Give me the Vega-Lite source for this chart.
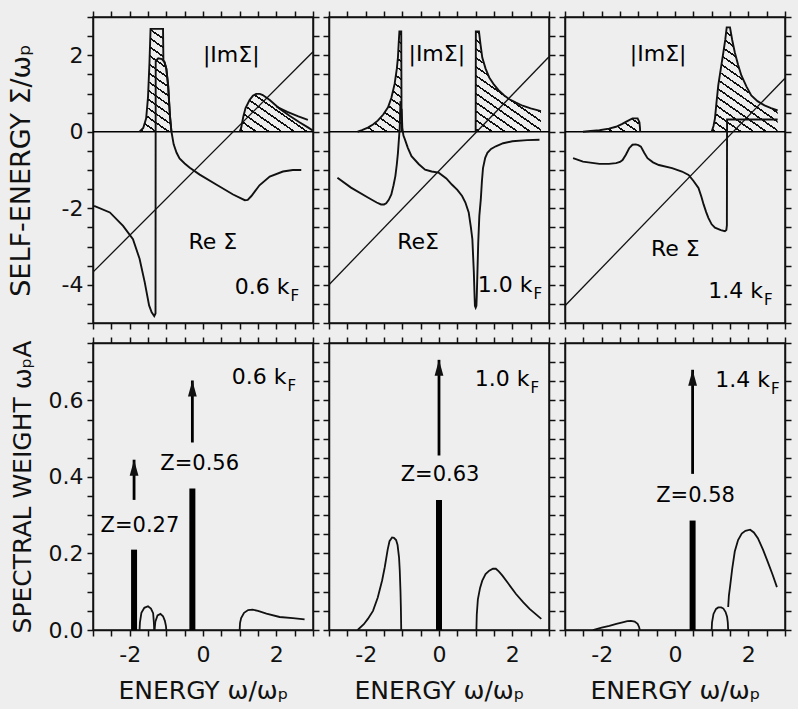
{
"$schema": "https://vega.github.io/schema/vega-lite/v6.json",
"background": "#eeeeee",
"padding": {"left": 6, "top": 5, "right": 5, "bottom": 5},
"config": {
 "view": {"stroke": "#111", "strokeWidth": 1.5},
 "font": "DejaVu Sans",
 "mark": {"color": "#111"},
 "axis": {"domainColor": "#111", "domainWidth": 1.5, "tickColor": "#111", "tickWidth": 1.5, "tickSize": 6, "grid": false, "labelColor": "#111", "labelFontSize": 22, "labelPadding": 4, "labelFlush": false, "labelOverlap": false, "titleColor": "#111", "titleFontWeight": "normal", "titleFontSize": 24}
},
"datasets": {
 "curves": [
  {"p":"1t","s":"ln","x":-3,"y":-3.67},{"p":"1t","s":"ln","x":3,"y":2.09},
  {"p":"1t","s":"re1","x":-2.97,"y":-1.94},{"p":"1t","s":"re1","x":-2.54,"y":-2.11},{"p":"1t","s":"re1","x":-2.18,"y":-2.46},{"p":"1t","s":"re1","x":-1.91,"y":-2.81},{"p":"1t","s":"re1","x":-1.73,"y":-3.32},{"p":"1t","s":"re1","x":-1.59,"y":-3.93},{"p":"1t","s":"re1","x":-1.47,"y":-4.54},{"p":"1t","s":"re1","x":-1.4,"y":-4.72},{"p":"1t","s":"re1","x":-1.33,"y":-4.82},{"p":"1t","s":"re1","x":-1.295,"y":-4.75},{"p":"1t","s":"re1","x":-1.29,"y":1.85},{"p":"1t","s":"re1","x":-1.22,"y":1.92},{"p":"1t","s":"re1","x":-1.12,"y":1.9},{"p":"1t","s":"re1","x":-1.05,"y":1.82},{"p":"1t","s":"re1","x":-1.0,"y":1.65},{"p":"1t","s":"re1","x":-0.95,"y":1.2},{"p":"1t","s":"re1","x":-0.9,"y":0.4},{"p":"1t","s":"re1","x":-0.86,"y":0.0},{"p":"1t","s":"re1","x":-0.8,"y":-0.33},{"p":"1t","s":"re1","x":-0.72,"y":-0.55},{"p":"1t","s":"re1","x":-0.64,"y":-0.7},{"p":"1t","s":"re1","x":-0.5,"y":-0.83},{"p":"1t","s":"re1","x":-0.36,"y":-0.94},{"p":"1t","s":"re1","x":-0.09,"y":-1.12},{"p":"1t","s":"re1","x":0.36,"y":-1.38},{"p":"1t","s":"re1","x":0.82,"y":-1.64},{"p":"1t","s":"re1","x":1.14,"y":-1.79},{"p":"1t","s":"re1","x":1.22,"y":-1.78},{"p":"1t","s":"re1","x":1.32,"y":-1.68},{"p":"1t","s":"re1","x":1.54,"y":-1.4},{"p":"1t","s":"re1","x":1.82,"y":-1.17},{"p":"1t","s":"re1","x":2.18,"y":-1.04},{"p":"1t","s":"re1","x":2.45,"y":-1.0},{"p":"1t","s":"re1","x":2.68,"y":-1.0},
  {"p":"1t","s":"A1","x":-1.73,"y":0},{"p":"1t","s":"A1","x":-1.63,"y":0.1},{"p":"1t","s":"A1","x":-1.55,"y":0.35},{"p":"1t","s":"A1","x":-1.5,"y":0.9},{"p":"1t","s":"A1","x":-1.46,"y":1.8},{"p":"1t","s":"A1","x":-1.43,"y":2.69},{"p":"1t","s":"A1","x":-1.09,"y":2.69},{"p":"1t","s":"A1","x":-1.08,"y":1.87},{"p":"1t","s":"A1","x":-1.05,"y":1.82},{"p":"1t","s":"A1","x":-1.0,"y":1.65},{"p":"1t","s":"A1","x":-0.95,"y":1.2},{"p":"1t","s":"A1","x":-0.9,"y":0.4},{"p":"1t","s":"A1","x":-0.86,"y":0},
  {"p":"1t","s":"A2","x":1.0,"y":0},{"p":"1t","s":"A2","x":1.04,"y":0.1},{"p":"1t","s":"A2","x":1.1,"y":0.4},{"p":"1t","s":"A2","x":1.16,"y":0.62},{"p":"1t","s":"A2","x":1.27,"y":0.83},{"p":"1t","s":"A2","x":1.36,"y":0.94},{"p":"1t","s":"A2","x":1.45,"y":0.99},{"p":"1t","s":"A2","x":1.55,"y":0.99},{"p":"1t","s":"A2","x":1.63,"y":0.96},{"p":"1t","s":"A2","x":1.82,"y":0.83},{"p":"1t","s":"A2","x":2.09,"y":0.6},{"p":"1t","s":"A2","x":2.36,"y":0.42},{"p":"1t","s":"A2","x":2.63,"y":0.25},{"p":"1t","s":"A2","x":2.85,"y":0.12},{"p":"1t","s":"A2","x":3.0,"y":0.03},
  {"p":"1t","s":"im2b","x":2.0,"y":0.66},{"p":"1t","s":"im2b","x":2.3,"y":0.52},{"p":"1t","s":"im2b","x":2.6,"y":0.4},{"p":"1t","s":"im2b","x":2.86,"y":0.31},

  {"p":"2t","s":"ln","x":-3,"y":-4.0},{"p":"2t","s":"ln","x":3,"y":1.96},
  {"p":"2t","s":"re1","x":-2.77,"y":-1.2},{"p":"2t","s":"re1","x":-2.4,"y":-1.46},{"p":"2t","s":"re1","x":-1.94,"y":-1.72},{"p":"2t","s":"re1","x":-1.7,"y":-1.85},{"p":"2t","s":"re1","x":-1.58,"y":-1.9},{"p":"2t","s":"re1","x":-1.5,"y":-1.9},{"p":"2t","s":"re1","x":-1.44,"y":-1.87},{"p":"2t","s":"re1","x":-1.37,"y":-1.78},{"p":"2t","s":"re1","x":-1.3,"y":-1.64},{"p":"2t","s":"re1","x":-1.24,"y":-1.4},{"p":"2t","s":"re1","x":-1.19,"y":-1.16},{"p":"2t","s":"re1","x":-1.15,"y":-0.85},{"p":"2t","s":"re1","x":-1.12,"y":-0.56},{"p":"2t","s":"re1","x":-1.09,"y":-0.15},{"p":"2t","s":"re1","x":-1.07,"y":0.13},{"p":"2t","s":"re1","x":-1.06,"y":0.5},{"p":"2t","s":"re1","x":-1.05,"y":0.8},
  {"p":"2t","s":"re2","x":-1.02,"y":0.6},{"p":"2t","s":"re2","x":-1.0,"y":0.1},{"p":"2t","s":"re2","x":-0.97,"y":-0.1},{"p":"2t","s":"re2","x":-0.93,"y":-0.2},{"p":"2t","s":"re2","x":-0.85,"y":-0.42},{"p":"2t","s":"re2","x":-0.75,"y":-0.64},{"p":"2t","s":"re2","x":-0.55,"y":-0.85},{"p":"2t","s":"re2","x":-0.38,"y":-0.99},{"p":"2t","s":"re2","x":-0.2,"y":-1.04},{"p":"2t","s":"re2","x":-0.01,"y":-1.07},{"p":"2t","s":"re2","x":0.2,"y":-1.22},{"p":"2t","s":"re2","x":0.35,"y":-1.38},{"p":"2t","s":"re2","x":0.5,"y":-1.52},{"p":"2t","s":"re2","x":0.63,"y":-1.68},{"p":"2t","s":"re2","x":0.72,"y":-1.85},{"p":"2t","s":"re2","x":0.81,"y":-2.11},{"p":"2t","s":"re2","x":0.87,"y":-2.5},{"p":"2t","s":"re2","x":0.91,"y":-2.81},{"p":"2t","s":"re2","x":0.95,"y":-3.67},{"p":"2t","s":"re2","x":0.97,"y":-4.3},{"p":"2t","s":"re2","x":0.98,"y":-4.55},{"p":"2t","s":"re2","x":1.0,"y":-4.6},{"p":"2t","s":"re2","x":1.02,"y":-4.55},{"p":"2t","s":"re2","x":1.03,"y":-4.3},{"p":"2t","s":"re2","x":1.05,"y":-3.6},{"p":"2t","s":"re2","x":1.07,"y":-2.9},{"p":"2t","s":"re2","x":1.1,"y":-2.2},{"p":"2t","s":"re2","x":1.14,"y":-1.77},{"p":"2t","s":"re2","x":1.17,"y":-1.3},{"p":"2t","s":"re2","x":1.2,"y":-0.95},{"p":"2t","s":"re2","x":1.26,"y":-0.68},{"p":"2t","s":"re2","x":1.32,"y":-0.55},{"p":"2t","s":"re2","x":1.42,"y":-0.45},{"p":"2t","s":"re2","x":1.55,"y":-0.38},{"p":"2t","s":"re2","x":1.75,"y":-0.3},{"p":"2t","s":"re2","x":2.0,"y":-0.25},{"p":"2t","s":"re2","x":2.4,"y":-0.22},{"p":"2t","s":"re2","x":2.74,"y":-0.21},
  {"p":"2t","s":"A3","x":-2.22,"y":0},{"p":"2t","s":"A3","x":-2.1,"y":0.04},{"p":"2t","s":"A3","x":-1.94,"y":0.11},{"p":"2t","s":"A3","x":-1.8,"y":0.19},{"p":"2t","s":"A3","x":-1.67,"y":0.29},{"p":"2t","s":"A3","x":-1.52,"y":0.45},{"p":"2t","s":"A3","x":-1.39,"y":0.64},{"p":"2t","s":"A3","x":-1.3,"y":0.88},{"p":"2t","s":"A3","x":-1.21,"y":1.25},{"p":"2t","s":"A3","x":-1.15,"y":1.65},{"p":"2t","s":"A3","x":-1.12,"y":1.94},{"p":"2t","s":"A3","x":-1.1,"y":2.3},{"p":"2t","s":"A3","x":-1.08,"y":2.62},{"p":"2t","s":"A3","x":-1.03,"y":2.62},{"p":"2t","s":"A3","x":-1.02,"y":0},
  {"p":"2t","s":"A4","x":1.0,"y":0},{"p":"2t","s":"A4","x":1.005,"y":2.62},{"p":"2t","s":"A4","x":1.09,"y":2.62},{"p":"2t","s":"A4","x":1.13,"y":2.3},{"p":"2t","s":"A4","x":1.18,"y":1.94},{"p":"2t","s":"A4","x":1.27,"y":1.65},{"p":"2t","s":"A4","x":1.37,"y":1.42},{"p":"2t","s":"A4","x":1.5,"y":1.23},{"p":"2t","s":"A4","x":1.64,"y":1.07},{"p":"2t","s":"A4","x":1.78,"y":0.95},{"p":"2t","s":"A4","x":1.92,"y":0.85},{"p":"2t","s":"A4","x":2.1,"y":0.76},{"p":"2t","s":"A4","x":2.28,"y":0.68},{"p":"2t","s":"A4","x":2.5,"y":0.61},{"p":"2t","s":"A4","x":2.78,"y":0.54},

  {"p":"3t","s":"ln","x":-3,"y":-4.55},{"p":"3t","s":"ln","x":3,"y":1.4},
  {"p":"3t","s":"re","x":-2.78,"y":-0.69},{"p":"3t","s":"re","x":-2.51,"y":-0.78},{"p":"3t","s":"re","x":-2.06,"y":-0.84},{"p":"3t","s":"re","x":-1.8,"y":-0.84},{"p":"3t","s":"re","x":-1.61,"y":-0.82},{"p":"3t","s":"re","x":-1.5,"y":-0.79},{"p":"3t","s":"re","x":-1.43,"y":-0.74},{"p":"3t","s":"re","x":-1.34,"y":-0.6},{"p":"3t","s":"re","x":-1.25,"y":-0.43},{"p":"3t","s":"re","x":-1.16,"y":-0.34},{"p":"3t","s":"re","x":-1.07,"y":-0.33},{"p":"3t","s":"re","x":-1.0,"y":-0.35},{"p":"3t","s":"re","x":-0.93,"y":-0.39},{"p":"3t","s":"re","x":-0.84,"y":-0.55},{"p":"3t","s":"re","x":-0.75,"y":-0.69},{"p":"3t","s":"re","x":-0.6,"y":-0.8},{"p":"3t","s":"re","x":-0.44,"y":-0.87},{"p":"3t","s":"re","x":-0.08,"y":-0.95},{"p":"3t","s":"re","x":0.19,"y":-1.04},{"p":"3t","s":"re","x":0.37,"y":-1.13},{"p":"3t","s":"re","x":0.5,"y":-1.28},{"p":"3t","s":"re","x":0.64,"y":-1.47},{"p":"3t","s":"re","x":0.72,"y":-1.7},{"p":"3t","s":"re","x":0.78,"y":-1.9},{"p":"3t","s":"re","x":0.85,"y":-2.1},{"p":"3t","s":"re","x":0.91,"y":-2.25},{"p":"3t","s":"re","x":1.0,"y":-2.42},{"p":"3t","s":"re","x":1.09,"y":-2.51},{"p":"3t","s":"re","x":1.25,"y":-2.57},{"p":"3t","s":"re","x":1.36,"y":-2.6},{"p":"3t","s":"re","x":1.4,"y":-2.57},{"p":"3t","s":"re","x":1.415,"y":-2.45},{"p":"3t","s":"re","x":1.42,"y":0.32},{"p":"3t","s":"re","x":1.6,"y":0.32},{"p":"3t","s":"re","x":2.2,"y":0.32},{"p":"3t","s":"re","x":2.8,"y":0.32},
  {"p":"3t","s":"A5","x":-2.51,"y":0},{"p":"3t","s":"A5","x":-2.3,"y":0.02},{"p":"3t","s":"A5","x":-2.06,"y":0.04},{"p":"3t","s":"A5","x":-1.8,"y":0.08},{"p":"3t","s":"A5","x":-1.61,"y":0.13},{"p":"3t","s":"A5","x":-1.45,"y":0.2},{"p":"3t","s":"A5","x":-1.34,"y":0.26},{"p":"3t","s":"A5","x":-1.16,"y":0.35},{"p":"3t","s":"A5","x":-1.02,"y":0.35},{"p":"3t","s":"A5","x":-0.97,"y":0.25},{"p":"3t","s":"A5","x":-0.955,"y":0.1},{"p":"3t","s":"A5","x":-0.95,"y":0},
  {"p":"3t","s":"A6","x":1.0,"y":0},{"p":"3t","s":"A6","x":1.05,"y":0.15},{"p":"3t","s":"A6","x":1.09,"y":0.35},{"p":"3t","s":"A6","x":1.13,"y":0.75},{"p":"3t","s":"A6","x":1.18,"y":1.21},{"p":"3t","s":"A6","x":1.25,"y":1.65},{"p":"3t","s":"A6","x":1.32,"y":2.08},{"p":"3t","s":"A6","x":1.37,"y":2.4},{"p":"3t","s":"A6","x":1.41,"y":2.73},{"p":"3t","s":"A6","x":1.5,"y":2.73},{"p":"3t","s":"A6","x":1.56,"y":2.4},{"p":"3t","s":"A6","x":1.63,"y":2.08},{"p":"3t","s":"A6","x":1.72,"y":1.75},{"p":"3t","s":"A6","x":1.81,"y":1.47},{"p":"3t","s":"A6","x":1.95,"y":1.18},{"p":"3t","s":"A6","x":2.08,"y":0.95},{"p":"3t","s":"A6","x":2.25,"y":0.8},{"p":"3t","s":"A6","x":2.44,"y":0.69},{"p":"3t","s":"A6","x":2.62,"y":0.62},{"p":"3t","s":"A6","x":2.8,"y":0.56},

  {"p":"1b","s":"b1","x":-1.73,"y":0},{"p":"1b","s":"b1","x":-1.72,"y":0.02},{"p":"1b","s":"b1","x":-1.68,"y":0.045},{"p":"1b","s":"b1","x":-1.6,"y":0.058},{"p":"1b","s":"b1","x":-1.5,"y":0.062},{"p":"1b","s":"b1","x":-1.42,"y":0.056},{"p":"1b","s":"b1","x":-1.36,"y":0.044},{"p":"1b","s":"b1","x":-1.34,"y":0.02},{"p":"1b","s":"b1","x":-1.33,"y":0},
  {"p":"1b","s":"b2","x":-1.32,"y":0},{"p":"1b","s":"b2","x":-1.3,"y":0.022},{"p":"1b","s":"b2","x":-1.24,"y":0.038},{"p":"1b","s":"b2","x":-1.16,"y":0.042},{"p":"1b","s":"b2","x":-1.09,"y":0.036},{"p":"1b","s":"b2","x":-1.04,"y":0.024},{"p":"1b","s":"b2","x":-1.01,"y":0.01},{"p":"1b","s":"b2","x":-1.0,"y":0},
  {"p":"1b","s":"b3","x":1.0,"y":0},{"p":"1b","s":"b3","x":1.01,"y":0.018},{"p":"1b","s":"b3","x":1.04,"y":0.031},{"p":"1b","s":"b3","x":1.12,"y":0.045},{"p":"1b","s":"b3","x":1.23,"y":0.052},{"p":"1b","s":"b3","x":1.35,"y":0.053},{"p":"1b","s":"b3","x":1.5,"y":0.05},{"p":"1b","s":"b3","x":1.73,"y":0.043},{"p":"1b","s":"b3","x":2.09,"y":0.034},{"p":"1b","s":"b3","x":2.45,"y":0.031},{"p":"1b","s":"b3","x":2.77,"y":0.028},

  {"p":"2b","s":"b1","x":-2.22,"y":0},{"p":"2b","s":"b1","x":-2.05,"y":0.015},{"p":"2b","s":"b1","x":-1.94,"y":0.029},{"p":"2b","s":"b1","x":-1.8,"y":0.05},{"p":"2b","s":"b1","x":-1.67,"y":0.085},{"p":"2b","s":"b1","x":-1.55,"y":0.13},{"p":"2b","s":"b1","x":-1.48,"y":0.164},{"p":"2b","s":"b1","x":-1.4,"y":0.21},{"p":"2b","s":"b1","x":-1.35,"y":0.232},{"p":"2b","s":"b1","x":-1.28,"y":0.242},{"p":"2b","s":"b1","x":-1.23,"y":0.241},{"p":"2b","s":"b1","x":-1.17,"y":0.235},{"p":"2b","s":"b1","x":-1.13,"y":0.222},{"p":"2b","s":"b1","x":-1.09,"y":0.19},{"p":"2b","s":"b1","x":-1.07,"y":0.155},{"p":"2b","s":"b1","x":-1.05,"y":0.1},{"p":"2b","s":"b1","x":-1.04,"y":0.06},{"p":"2b","s":"b1","x":-1.03,"y":0},
  {"p":"2b","s":"b2","x":1.02,"y":0},{"p":"2b","s":"b2","x":1.03,"y":0.04},{"p":"2b","s":"b2","x":1.06,"y":0.08},{"p":"2b","s":"b2","x":1.12,"y":0.11},{"p":"2b","s":"b2","x":1.18,"y":0.129},{"p":"2b","s":"b2","x":1.27,"y":0.146},{"p":"2b","s":"b2","x":1.37,"y":0.155},{"p":"2b","s":"b2","x":1.47,"y":0.16},{"p":"2b","s":"b2","x":1.55,"y":0.16},{"p":"2b","s":"b2","x":1.63,"y":0.153},{"p":"2b","s":"b2","x":1.73,"y":0.142},{"p":"2b","s":"b2","x":1.9,"y":0.12},{"p":"2b","s":"b2","x":2.1,"y":0.094},{"p":"2b","s":"b2","x":2.3,"y":0.072},{"p":"2b","s":"b2","x":2.47,"y":0.055},{"p":"2b","s":"b2","x":2.63,"y":0.042},{"p":"2b","s":"b2","x":2.79,"y":0.029},

  {"p":"3b","s":"b1","x":-2.24,"y":0},{"p":"3b","s":"b1","x":-2.0,"y":0.006},{"p":"3b","s":"b1","x":-1.79,"y":0.011},{"p":"3b","s":"b1","x":-1.6,"y":0.016},{"p":"3b","s":"b1","x":-1.43,"y":0.02},{"p":"3b","s":"b1","x":-1.3,"y":0.023},{"p":"3b","s":"b1","x":-1.2,"y":0.024},{"p":"3b","s":"b1","x":-1.1,"y":0.022},{"p":"3b","s":"b1","x":-1.02,"y":0.016},{"p":"3b","s":"b1","x":-0.98,"y":0.008},{"p":"3b","s":"b1","x":-0.96,"y":0},
  {"p":"3b","s":"b2","x":1.0,"y":0},{"p":"3b","s":"b2","x":1.01,"y":0.02},{"p":"3b","s":"b2","x":1.05,"y":0.042},{"p":"3b","s":"b2","x":1.12,"y":0.055},{"p":"3b","s":"b2","x":1.18,"y":0.059},{"p":"3b","s":"b2","x":1.26,"y":0.059},{"p":"3b","s":"b2","x":1.32,"y":0.056},{"p":"3b","s":"b2","x":1.38,"y":0.047},{"p":"3b","s":"b2","x":1.42,"y":0.035},{"p":"3b","s":"b2","x":1.44,"y":0.02},{"p":"3b","s":"b2","x":1.45,"y":0},
  {"p":"3b","s":"b3","x":1.45,"y":0.06},{"p":"3b","s":"b3","x":1.47,"y":0.09},{"p":"3b","s":"b3","x":1.5,"y":0.112},{"p":"3b","s":"b3","x":1.56,"y":0.16},{"p":"3b","s":"b3","x":1.63,"y":0.205},{"p":"3b","s":"b3","x":1.72,"y":0.235},{"p":"3b","s":"b3","x":1.82,"y":0.252},{"p":"3b","s":"b3","x":1.92,"y":0.259},{"p":"3b","s":"b3","x":2.05,"y":0.262},{"p":"3b","s":"b3","x":2.15,"y":0.255},{"p":"3b","s":"b3","x":2.26,"y":0.24},{"p":"3b","s":"b3","x":2.4,"y":0.21},{"p":"3b","s":"b3","x":2.53,"y":0.178},{"p":"3b","s":"b3","x":2.66,"y":0.145},{"p":"3b","s":"b3","x":2.78,"y":0.112}
 ],
 "labels": [
  {"p":"1t","k":"a","t":"|ImΣ|","x":0.77,"y":2.0},
  {"p":"1t","k":"a","t":"Re Σ","x":0.27,"y":-2.89},
  {"p":"1t","k":"kf","t":"0.6 k","x":2.36,"y":-4.05},
  {"p":"2t","k":"a","t":"|ImΣ|","x":-0.06,"y":2.04},
  {"p":"2t","k":"a","t":"ReΣ","x":-0.57,"y":-2.89},
  {"p":"2t","k":"kf","t":"1.0 k","x":2.55,"y":-4.0},
  {"p":"3t","k":"a","t":"|ImΣ|","x":-0.46,"y":2.03},
  {"p":"3t","k":"a","t":"Re Σ","x":0.01,"y":-3.07},
  {"p":"3t","k":"kf","t":"1.4 k","x":2.4,"y":-4.16},
  {"p":"1b","k":"kf","t":"0.6 k","x":2.28,"y":0.661},
  {"p":"1b","k":"a","t":"Z=0.27","x":-1.72,"y":0.273},
  {"p":"1b","k":"a","t":"Z=0.56","x":-0.09,"y":0.433},
  {"p":"2b","k":"kf","t":"1.0 k","x":2.47,"y":0.657},
  {"p":"2b","k":"a","t":"Z=0.63","x":0.03,"y":0.404},
  {"p":"3b","k":"kf","t":"1.4 k","x":2.59,"y":0.653},
  {"p":"3b","k":"a","t":"Z=0.58","x":0.56,"y":0.351}
 ],
 "spikes": [
  {"p":"1b","x":-1.88,"b":0.21,"a0":0.34,"a1":0.445},
  {"p":"1b","x":-0.29,"b":0.37,"a0":0.49,"a1":0.652},
  {"p":"2b","x":0.0,"b":0.34,"a0":0.456,"a1":0.706},
  {"p":"3b","x":0.48,"b":0.286,"a0":0.408,"a1":0.68}
 ]
},
"columns": 3,
"spacing": {"row": 20, "column": 16},
"bounds": "flush",
"concat": [
  {"width": 220, "height": 306,
   "resolve": {"axis": {"x": "independent", "y": "independent"}},
   "layer": [
    {"data": {"values": [{}]}, "mark": {"type": "point", "opacity": 0},
     "encoding": {
      "x": {"datum": 0, "type": "quantitative", "scale": {"domain": [-3, 3], "nice": false, "zero": false}, "axis": {"orient": "bottom", "values": [-3,-2.5,-2,-1.5,-1,-0.5,0,0.5,1,1.5,2,2.5,3], "labels": false, "title": null}},
      "y": {"datum": 0, "type": "quantitative", "scale": {"domain": [-5, 3], "nice": false, "zero": false}, "axis": {"orient": "left", "values": [-5,-4.5,-4,-3.5,-3,-2.5,-2,-1.5,-1,-0.5,0,0.5,1,1.5,2,2.5,3], "labelExpr": "datum.value == -4 ? '-4' : datum.value == -2 ? '-2' : datum.value == 0 ? '0' : datum.value == 2 ? '2' : ''", "title": "SELF-ENERGY Σ/ωₚ", "titlePadding": 26, "titleFontSize": 27}}}},
    {"data": {"values": [{}]}, "mark": {"type": "point", "opacity": 0},
     "encoding": {
      "x": {"datum": 0, "type": "quantitative", "axis": {"orient": "top", "values": [-3,-2.5,-2,-1.5,-1,-0.5,0,0.5,1,1.5,2,2.5,3], "labels": false, "title": null}},
      "y": {"datum": 0, "type": "quantitative", "axis": {"orient": "right", "values": [-5,-4.5,-4,-3.5,-3,-2.5,-2,-1.5,-1,-0.5,0,0.5,1,1.5,2,2.5,3], "labels": false, "title": null}}}},
    {"data": {"name": "curves"}, "transform": [{"filter": "datum.s == 'A1'"}],
     "mark": {"type": "area", "clip": true, "strokeWidth": 0, "fill": {"gradient": "linear", "x1": 0, "y1": 1, "x2": 0.359, "y2": -0.654, "stops": [{"offset":0.01,"color":"#eee"},{"offset":0.01,"color":"#111"},{"offset":0.021,"color":"#111"},{"offset":0.021,"color":"#eee"},{"offset":0.06,"color":"#eee"},{"offset":0.06,"color":"#111"},{"offset":0.071,"color":"#111"},{"offset":0.071,"color":"#eee"},{"offset":0.11,"color":"#eee"},{"offset":0.11,"color":"#111"},{"offset":0.121,"color":"#111"},{"offset":0.121,"color":"#eee"},{"offset":0.16,"color":"#eee"},{"offset":0.16,"color":"#111"},{"offset":0.171,"color":"#111"},{"offset":0.171,"color":"#eee"},{"offset":0.21,"color":"#eee"},{"offset":0.21,"color":"#111"},{"offset":0.221,"color":"#111"},{"offset":0.221,"color":"#eee"},{"offset":0.26,"color":"#eee"},{"offset":0.26,"color":"#111"},{"offset":0.271,"color":"#111"},{"offset":0.271,"color":"#eee"},{"offset":0.31,"color":"#eee"},{"offset":0.31,"color":"#111"},{"offset":0.321,"color":"#111"},{"offset":0.321,"color":"#eee"},{"offset":0.36,"color":"#eee"},{"offset":0.36,"color":"#111"},{"offset":0.371,"color":"#111"},{"offset":0.371,"color":"#eee"},{"offset":0.41,"color":"#eee"},{"offset":0.41,"color":"#111"},{"offset":0.421,"color":"#111"},{"offset":0.421,"color":"#eee"},{"offset":0.46,"color":"#eee"},{"offset":0.46,"color":"#111"},{"offset":0.471,"color":"#111"},{"offset":0.471,"color":"#eee"},{"offset":0.51,"color":"#eee"},{"offset":0.51,"color":"#111"},{"offset":0.521,"color":"#111"},{"offset":0.521,"color":"#eee"},{"offset":0.56,"color":"#eee"},{"offset":0.56,"color":"#111"},{"offset":0.571,"color":"#111"},{"offset":0.571,"color":"#eee"},{"offset":0.61,"color":"#eee"},{"offset":0.61,"color":"#111"},{"offset":0.621,"color":"#111"},{"offset":0.621,"color":"#eee"},{"offset":0.66,"color":"#eee"},{"offset":0.66,"color":"#111"},{"offset":0.671,"color":"#111"},{"offset":0.671,"color":"#eee"},{"offset":0.71,"color":"#eee"},{"offset":0.71,"color":"#111"},{"offset":0.721,"color":"#111"},{"offset":0.721,"color":"#eee"},{"offset":0.76,"color":"#eee"},{"offset":0.76,"color":"#111"},{"offset":0.771,"color":"#111"},{"offset":0.771,"color":"#eee"},{"offset":0.81,"color":"#eee"},{"offset":0.81,"color":"#111"},{"offset":0.821,"color":"#111"},{"offset":0.821,"color":"#eee"},{"offset":0.86,"color":"#eee"},{"offset":0.86,"color":"#111"},{"offset":0.871,"color":"#111"},{"offset":0.871,"color":"#eee"},{"offset":0.91,"color":"#eee"},{"offset":0.91,"color":"#111"},{"offset":0.921,"color":"#111"},{"offset":0.921,"color":"#eee"},{"offset":0.96,"color":"#eee"},{"offset":0.96,"color":"#111"},{"offset":0.971,"color":"#111"},{"offset":0.971,"color":"#eee"}]}},
     "encoding": {"x": {"field": "x", "type": "quantitative", "axis": null}, "y": {"field": "y", "type": "quantitative", "axis": null}, "y2": {"datum": 0}}},
    {"data": {"name": "curves"}, "transform": [{"filter": "datum.s == 'A2'"}],
     "mark": {"type": "area", "clip": true, "strokeWidth": 0, "fill": {"gradient": "linear", "x1": 0, "y1": 1, "x2": 2.247, "y2": -0.66, "stops": [{"offset":0.01,"color":"#eee"},{"offset":0.01,"color":"#111"},{"offset":0.021,"color":"#111"},{"offset":0.021,"color":"#eee"},{"offset":0.06,"color":"#eee"},{"offset":0.06,"color":"#111"},{"offset":0.071,"color":"#111"},{"offset":0.071,"color":"#eee"},{"offset":0.11,"color":"#eee"},{"offset":0.11,"color":"#111"},{"offset":0.121,"color":"#111"},{"offset":0.121,"color":"#eee"},{"offset":0.16,"color":"#eee"},{"offset":0.16,"color":"#111"},{"offset":0.171,"color":"#111"},{"offset":0.171,"color":"#eee"},{"offset":0.21,"color":"#eee"},{"offset":0.21,"color":"#111"},{"offset":0.221,"color":"#111"},{"offset":0.221,"color":"#eee"},{"offset":0.26,"color":"#eee"},{"offset":0.26,"color":"#111"},{"offset":0.271,"color":"#111"},{"offset":0.271,"color":"#eee"},{"offset":0.31,"color":"#eee"},{"offset":0.31,"color":"#111"},{"offset":0.321,"color":"#111"},{"offset":0.321,"color":"#eee"},{"offset":0.36,"color":"#eee"},{"offset":0.36,"color":"#111"},{"offset":0.371,"color":"#111"},{"offset":0.371,"color":"#eee"},{"offset":0.41,"color":"#eee"},{"offset":0.41,"color":"#111"},{"offset":0.421,"color":"#111"},{"offset":0.421,"color":"#eee"},{"offset":0.46,"color":"#eee"},{"offset":0.46,"color":"#111"},{"offset":0.471,"color":"#111"},{"offset":0.471,"color":"#eee"},{"offset":0.51,"color":"#eee"},{"offset":0.51,"color":"#111"},{"offset":0.521,"color":"#111"},{"offset":0.521,"color":"#eee"},{"offset":0.56,"color":"#eee"},{"offset":0.56,"color":"#111"},{"offset":0.571,"color":"#111"},{"offset":0.571,"color":"#eee"},{"offset":0.61,"color":"#eee"},{"offset":0.61,"color":"#111"},{"offset":0.621,"color":"#111"},{"offset":0.621,"color":"#eee"},{"offset":0.66,"color":"#eee"},{"offset":0.66,"color":"#111"},{"offset":0.671,"color":"#111"},{"offset":0.671,"color":"#eee"},{"offset":0.71,"color":"#eee"},{"offset":0.71,"color":"#111"},{"offset":0.721,"color":"#111"},{"offset":0.721,"color":"#eee"},{"offset":0.76,"color":"#eee"},{"offset":0.76,"color":"#111"},{"offset":0.771,"color":"#111"},{"offset":0.771,"color":"#eee"},{"offset":0.81,"color":"#eee"},{"offset":0.81,"color":"#111"},{"offset":0.821,"color":"#111"},{"offset":0.821,"color":"#eee"},{"offset":0.86,"color":"#eee"},{"offset":0.86,"color":"#111"},{"offset":0.871,"color":"#111"},{"offset":0.871,"color":"#eee"},{"offset":0.91,"color":"#eee"},{"offset":0.91,"color":"#111"},{"offset":0.921,"color":"#111"},{"offset":0.921,"color":"#eee"},{"offset":0.96,"color":"#eee"},{"offset":0.96,"color":"#111"},{"offset":0.971,"color":"#111"},{"offset":0.971,"color":"#eee"}]}},
     "encoding": {"x": {"field": "x", "type": "quantitative", "axis": null}, "y": {"field": "y", "type": "quantitative", "axis": null}, "y2": {"datum": 0}}},
    {"data": {"values": [{}]}, "mark": {"type": "rule", "strokeWidth": 1.5}, "encoding": {"y": {"datum": 0, "type": "quantitative", "axis": null}}},
    {"data": {"name": "curves"}, "transform": [{"filter": "datum.p == '1t' && datum.s == 'ln'"}], "mark": {"type": "line", "strokeWidth": 1.3, "clip": true},
     "encoding": {"x": {"field": "x", "type": "quantitative", "axis": null}, "y": {"field": "y", "type": "quantitative", "axis": null}, "detail": {"field": "s"}}},
    {"data": {"name": "curves"}, "transform": [{"filter": "datum.p == '1t' && datum.s != 'ln'"}], "mark": {"type": "line", "strokeWidth": 1.9, "clip": true},
     "encoding": {"x": {"field": "x", "type": "quantitative", "axis": null}, "y": {"field": "y", "type": "quantitative", "axis": null}, "detail": {"field": "s"}}},
    {"data": {"name": "labels"}, "transform": [{"filter": "datum.p == '1t' && datum.k == 'a'"}], "mark": {"type": "text", "fontSize": 22, "align": "center", "baseline": "middle"},
     "encoding": {"x": {"field": "x", "type": "quantitative", "axis": null}, "y": {"field": "y", "type": "quantitative", "axis": null}, "text": {"field": "t"}}},
    {"data": {"name": "labels"}, "transform": [{"filter": "datum.p == '1t' && datum.k == 'kf'"}], "mark": {"type": "text", "fontSize": 22, "align": "right", "baseline": "middle"},
     "encoding": {"x": {"field": "x", "type": "quantitative", "axis": null}, "y": {"field": "y", "type": "quantitative", "axis": null}, "text": {"field": "t"}}},
    {"data": {"name": "labels"}, "transform": [{"filter": "datum.p == '1t' && datum.k == 'kf'"}], "mark": {"type": "text", "fontSize": 15, "align": "left", "baseline": "middle", "dx": 1, "dy": 9},
     "encoding": {"x": {"field": "x", "type": "quantitative", "axis": null}, "y": {"field": "y", "type": "quantitative", "axis": null}, "text": {"value": "F"}}}
   ]},
  {"width": 220, "height": 306,
   "resolve": {"axis": {"x": "independent", "y": "independent"}},
   "layer": [
    {"data": {"values": [{}]}, "mark": {"type": "point", "opacity": 0},
     "encoding": {
      "x": {"datum": 0, "type": "quantitative", "scale": {"domain": [-3, 3], "nice": false, "zero": false}, "axis": {"orient": "bottom", "values": [-3,-2.5,-2,-1.5,-1,-0.5,0,0.5,1,1.5,2,2.5,3], "labels": false, "title": null}},
      "y": {"datum": 0, "type": "quantitative", "scale": {"domain": [-5, 3], "nice": false, "zero": false}, "axis": {"orient": "left", "values": [-5,-4.5,-4,-3.5,-3,-2.5,-2,-1.5,-1,-0.5,0,0.5,1,1.5,2,2.5,3], "labels": false, "title": null}}}},
    {"data": {"values": [{}]}, "mark": {"type": "point", "opacity": 0},
     "encoding": {
      "x": {"datum": 0, "type": "quantitative", "axis": {"orient": "top", "values": [-3,-2.5,-2,-1.5,-1,-0.5,0,0.5,1,1.5,2,2.5,3], "labels": false, "title": null}},
      "y": {"datum": 0, "type": "quantitative", "axis": {"orient": "right", "values": [-5,-4.5,-4,-3.5,-3,-2.5,-2,-1.5,-1,-0.5,0,0.5,1,1.5,2,2.5,3], "labels": false, "title": null}}}},
    {"data": {"name": "curves"}, "transform": [{"filter": "datum.s == 'A3'"}],
     "mark": {"type": "area", "clip": true, "strokeWidth": 0, "fill": {"gradient": "linear", "x1": 0, "y1": 1, "x2": 0.4995, "y2": -0.625, "stops": [{"offset":0.01,"color":"#eee"},{"offset":0.01,"color":"#111"},{"offset":0.021,"color":"#111"},{"offset":0.021,"color":"#eee"},{"offset":0.06,"color":"#eee"},{"offset":0.06,"color":"#111"},{"offset":0.071,"color":"#111"},{"offset":0.071,"color":"#eee"},{"offset":0.11,"color":"#eee"},{"offset":0.11,"color":"#111"},{"offset":0.121,"color":"#111"},{"offset":0.121,"color":"#eee"},{"offset":0.16,"color":"#eee"},{"offset":0.16,"color":"#111"},{"offset":0.171,"color":"#111"},{"offset":0.171,"color":"#eee"},{"offset":0.21,"color":"#eee"},{"offset":0.21,"color":"#111"},{"offset":0.221,"color":"#111"},{"offset":0.221,"color":"#eee"},{"offset":0.26,"color":"#eee"},{"offset":0.26,"color":"#111"},{"offset":0.271,"color":"#111"},{"offset":0.271,"color":"#eee"},{"offset":0.31,"color":"#eee"},{"offset":0.31,"color":"#111"},{"offset":0.321,"color":"#111"},{"offset":0.321,"color":"#eee"},{"offset":0.36,"color":"#eee"},{"offset":0.36,"color":"#111"},{"offset":0.371,"color":"#111"},{"offset":0.371,"color":"#eee"},{"offset":0.41,"color":"#eee"},{"offset":0.41,"color":"#111"},{"offset":0.421,"color":"#111"},{"offset":0.421,"color":"#eee"},{"offset":0.46,"color":"#eee"},{"offset":0.46,"color":"#111"},{"offset":0.471,"color":"#111"},{"offset":0.471,"color":"#eee"},{"offset":0.51,"color":"#eee"},{"offset":0.51,"color":"#111"},{"offset":0.521,"color":"#111"},{"offset":0.521,"color":"#eee"},{"offset":0.56,"color":"#eee"},{"offset":0.56,"color":"#111"},{"offset":0.571,"color":"#111"},{"offset":0.571,"color":"#eee"},{"offset":0.61,"color":"#eee"},{"offset":0.61,"color":"#111"},{"offset":0.621,"color":"#111"},{"offset":0.621,"color":"#eee"},{"offset":0.66,"color":"#eee"},{"offset":0.66,"color":"#111"},{"offset":0.671,"color":"#111"},{"offset":0.671,"color":"#eee"},{"offset":0.71,"color":"#eee"},{"offset":0.71,"color":"#111"},{"offset":0.721,"color":"#111"},{"offset":0.721,"color":"#eee"},{"offset":0.76,"color":"#eee"},{"offset":0.76,"color":"#111"},{"offset":0.771,"color":"#111"},{"offset":0.771,"color":"#eee"},{"offset":0.81,"color":"#eee"},{"offset":0.81,"color":"#111"},{"offset":0.821,"color":"#111"},{"offset":0.821,"color":"#eee"},{"offset":0.86,"color":"#eee"},{"offset":0.86,"color":"#111"},{"offset":0.871,"color":"#111"},{"offset":0.871,"color":"#eee"},{"offset":0.91,"color":"#eee"},{"offset":0.91,"color":"#111"},{"offset":0.921,"color":"#111"},{"offset":0.921,"color":"#eee"},{"offset":0.96,"color":"#eee"},{"offset":0.96,"color":"#111"},{"offset":0.971,"color":"#111"},{"offset":0.971,"color":"#eee"}]}},
     "encoding": {"x": {"field": "x", "type": "quantitative", "axis": null}, "y": {"field": "y", "type": "quantitative", "axis": null}, "y2": {"datum": 0}}},
    {"data": {"name": "curves"}, "transform": [{"filter": "datum.s == 'A4'"}],
     "mark": {"type": "area", "clip": true, "strokeWidth": 0, "fill": {"gradient": "linear", "x1": 0, "y1": 1, "x2": 0.6716, "y2": -0.472, "stops": [{"offset":0.01,"color":"#eee"},{"offset":0.01,"color":"#111"},{"offset":0.021,"color":"#111"},{"offset":0.021,"color":"#eee"},{"offset":0.06,"color":"#eee"},{"offset":0.06,"color":"#111"},{"offset":0.071,"color":"#111"},{"offset":0.071,"color":"#eee"},{"offset":0.11,"color":"#eee"},{"offset":0.11,"color":"#111"},{"offset":0.121,"color":"#111"},{"offset":0.121,"color":"#eee"},{"offset":0.16,"color":"#eee"},{"offset":0.16,"color":"#111"},{"offset":0.171,"color":"#111"},{"offset":0.171,"color":"#eee"},{"offset":0.21,"color":"#eee"},{"offset":0.21,"color":"#111"},{"offset":0.221,"color":"#111"},{"offset":0.221,"color":"#eee"},{"offset":0.26,"color":"#eee"},{"offset":0.26,"color":"#111"},{"offset":0.271,"color":"#111"},{"offset":0.271,"color":"#eee"},{"offset":0.31,"color":"#eee"},{"offset":0.31,"color":"#111"},{"offset":0.321,"color":"#111"},{"offset":0.321,"color":"#eee"},{"offset":0.36,"color":"#eee"},{"offset":0.36,"color":"#111"},{"offset":0.371,"color":"#111"},{"offset":0.371,"color":"#eee"},{"offset":0.41,"color":"#eee"},{"offset":0.41,"color":"#111"},{"offset":0.421,"color":"#111"},{"offset":0.421,"color":"#eee"},{"offset":0.46,"color":"#eee"},{"offset":0.46,"color":"#111"},{"offset":0.471,"color":"#111"},{"offset":0.471,"color":"#eee"},{"offset":0.51,"color":"#eee"},{"offset":0.51,"color":"#111"},{"offset":0.521,"color":"#111"},{"offset":0.521,"color":"#eee"},{"offset":0.56,"color":"#eee"},{"offset":0.56,"color":"#111"},{"offset":0.571,"color":"#111"},{"offset":0.571,"color":"#eee"},{"offset":0.61,"color":"#eee"},{"offset":0.61,"color":"#111"},{"offset":0.621,"color":"#111"},{"offset":0.621,"color":"#eee"},{"offset":0.66,"color":"#eee"},{"offset":0.66,"color":"#111"},{"offset":0.671,"color":"#111"},{"offset":0.671,"color":"#eee"},{"offset":0.71,"color":"#eee"},{"offset":0.71,"color":"#111"},{"offset":0.721,"color":"#111"},{"offset":0.721,"color":"#eee"},{"offset":0.76,"color":"#eee"},{"offset":0.76,"color":"#111"},{"offset":0.771,"color":"#111"},{"offset":0.771,"color":"#eee"},{"offset":0.81,"color":"#eee"},{"offset":0.81,"color":"#111"},{"offset":0.821,"color":"#111"},{"offset":0.821,"color":"#eee"},{"offset":0.86,"color":"#eee"},{"offset":0.86,"color":"#111"},{"offset":0.871,"color":"#111"},{"offset":0.871,"color":"#eee"},{"offset":0.91,"color":"#eee"},{"offset":0.91,"color":"#111"},{"offset":0.921,"color":"#111"},{"offset":0.921,"color":"#eee"},{"offset":0.96,"color":"#eee"},{"offset":0.96,"color":"#111"},{"offset":0.971,"color":"#111"},{"offset":0.971,"color":"#eee"}]}},
     "encoding": {"x": {"field": "x", "type": "quantitative", "axis": null}, "y": {"field": "y", "type": "quantitative", "axis": null}, "y2": {"datum": 0}}},
    {"data": {"values": [{}]}, "mark": {"type": "rule", "strokeWidth": 1.5}, "encoding": {"y": {"datum": 0, "type": "quantitative", "axis": null}}},
    {"data": {"name": "curves"}, "transform": [{"filter": "datum.p == '2t' && datum.s == 'ln'"}], "mark": {"type": "line", "strokeWidth": 1.3, "clip": true},
     "encoding": {"x": {"field": "x", "type": "quantitative", "axis": null}, "y": {"field": "y", "type": "quantitative", "axis": null}, "detail": {"field": "s"}}},
    {"data": {"name": "curves"}, "transform": [{"filter": "datum.p == '2t' && datum.s != 'ln'"}], "mark": {"type": "line", "strokeWidth": 1.9, "clip": true},
     "encoding": {"x": {"field": "x", "type": "quantitative", "axis": null}, "y": {"field": "y", "type": "quantitative", "axis": null}, "detail": {"field": "s"}}},
    {"data": {"name": "labels"}, "transform": [{"filter": "datum.p == '2t' && datum.k == 'a'"}], "mark": {"type": "text", "fontSize": 22, "align": "center", "baseline": "middle"},
     "encoding": {"x": {"field": "x", "type": "quantitative", "axis": null}, "y": {"field": "y", "type": "quantitative", "axis": null}, "text": {"field": "t"}}},
    {"data": {"name": "labels"}, "transform": [{"filter": "datum.p == '2t' && datum.k == 'kf'"}], "mark": {"type": "text", "fontSize": 22, "align": "right", "baseline": "middle"},
     "encoding": {"x": {"field": "x", "type": "quantitative", "axis": null}, "y": {"field": "y", "type": "quantitative", "axis": null}, "text": {"field": "t"}}},
    {"data": {"name": "labels"}, "transform": [{"filter": "datum.p == '2t' && datum.k == 'kf'"}], "mark": {"type": "text", "fontSize": 15, "align": "left", "baseline": "middle", "dx": 1, "dy": 9},
     "encoding": {"x": {"field": "x", "type": "quantitative", "axis": null}, "y": {"field": "y", "type": "quantitative", "axis": null}, "text": {"value": "F"}}}
   ]},
  {"width": 220, "height": 306,
   "resolve": {"axis": {"x": "independent", "y": "independent"}},
   "layer": [
    {"data": {"values": [{}]}, "mark": {"type": "point", "opacity": 0},
     "encoding": {
      "x": {"datum": 0, "type": "quantitative", "scale": {"domain": [-3, 3], "nice": false, "zero": false}, "axis": {"orient": "bottom", "values": [-3,-2.5,-2,-1.5,-1,-0.5,0,0.5,1,1.5,2,2.5,3], "labels": false, "title": null}},
      "y": {"datum": 0, "type": "quantitative", "scale": {"domain": [-5, 3], "nice": false, "zero": false}, "axis": {"orient": "left", "values": [-5,-4.5,-4,-3.5,-3,-2.5,-2,-1.5,-1,-0.5,0,0.5,1,1.5,2,2.5,3], "labels": false, "title": null}}}},
    {"data": {"values": [{}]}, "mark": {"type": "point", "opacity": 0},
     "encoding": {
      "x": {"datum": 0, "type": "quantitative", "axis": {"orient": "top", "values": [-3,-2.5,-2,-1.5,-1,-0.5,0,0.5,1,1.5,2,2.5,3], "labels": false, "title": null}},
      "y": {"datum": 0, "type": "quantitative", "axis": {"orient": "right", "values": [-5,-4.5,-4,-3.5,-3,-2.5,-2,-1.5,-1,-0.5,0,0.5,1,1.5,2,2.5,3], "labels": false, "title": null}}}},
    {"data": {"name": "curves"}, "transform": [{"filter": "datum.s == 'A5'"}],
     "mark": {"type": "area", "clip": true, "strokeWidth": 0, "fill": {"gradient": "linear", "x1": 0, "y1": 1, "x2": 4.002, "y2": -0.339, "stops": [{"offset":0.01,"color":"#eee"},{"offset":0.01,"color":"#111"},{"offset":0.021,"color":"#111"},{"offset":0.021,"color":"#eee"},{"offset":0.06,"color":"#eee"},{"offset":0.06,"color":"#111"},{"offset":0.071,"color":"#111"},{"offset":0.071,"color":"#eee"},{"offset":0.11,"color":"#eee"},{"offset":0.11,"color":"#111"},{"offset":0.121,"color":"#111"},{"offset":0.121,"color":"#eee"},{"offset":0.16,"color":"#eee"},{"offset":0.16,"color":"#111"},{"offset":0.171,"color":"#111"},{"offset":0.171,"color":"#eee"},{"offset":0.21,"color":"#eee"},{"offset":0.21,"color":"#111"},{"offset":0.221,"color":"#111"},{"offset":0.221,"color":"#eee"},{"offset":0.26,"color":"#eee"},{"offset":0.26,"color":"#111"},{"offset":0.271,"color":"#111"},{"offset":0.271,"color":"#eee"},{"offset":0.31,"color":"#eee"},{"offset":0.31,"color":"#111"},{"offset":0.321,"color":"#111"},{"offset":0.321,"color":"#eee"},{"offset":0.36,"color":"#eee"},{"offset":0.36,"color":"#111"},{"offset":0.371,"color":"#111"},{"offset":0.371,"color":"#eee"},{"offset":0.41,"color":"#eee"},{"offset":0.41,"color":"#111"},{"offset":0.421,"color":"#111"},{"offset":0.421,"color":"#eee"},{"offset":0.46,"color":"#eee"},{"offset":0.46,"color":"#111"},{"offset":0.471,"color":"#111"},{"offset":0.471,"color":"#eee"},{"offset":0.51,"color":"#eee"},{"offset":0.51,"color":"#111"},{"offset":0.521,"color":"#111"},{"offset":0.521,"color":"#eee"},{"offset":0.56,"color":"#eee"},{"offset":0.56,"color":"#111"},{"offset":0.571,"color":"#111"},{"offset":0.571,"color":"#eee"},{"offset":0.61,"color":"#eee"},{"offset":0.61,"color":"#111"},{"offset":0.621,"color":"#111"},{"offset":0.621,"color":"#eee"},{"offset":0.66,"color":"#eee"},{"offset":0.66,"color":"#111"},{"offset":0.671,"color":"#111"},{"offset":0.671,"color":"#eee"},{"offset":0.71,"color":"#eee"},{"offset":0.71,"color":"#111"},{"offset":0.721,"color":"#111"},{"offset":0.721,"color":"#eee"},{"offset":0.76,"color":"#eee"},{"offset":0.76,"color":"#111"},{"offset":0.771,"color":"#111"},{"offset":0.771,"color":"#eee"},{"offset":0.81,"color":"#eee"},{"offset":0.81,"color":"#111"},{"offset":0.821,"color":"#111"},{"offset":0.821,"color":"#eee"},{"offset":0.86,"color":"#eee"},{"offset":0.86,"color":"#111"},{"offset":0.871,"color":"#111"},{"offset":0.871,"color":"#eee"},{"offset":0.91,"color":"#eee"},{"offset":0.91,"color":"#111"},{"offset":0.921,"color":"#111"},{"offset":0.921,"color":"#eee"},{"offset":0.96,"color":"#eee"},{"offset":0.96,"color":"#111"},{"offset":0.971,"color":"#111"},{"offset":0.971,"color":"#eee"}]}},
     "encoding": {"x": {"field": "x", "type": "quantitative", "axis": null}, "y": {"field": "y", "type": "quantitative", "axis": null}, "y2": {"datum": 0}}},
    {"data": {"name": "curves"}, "transform": [{"filter": "datum.s == 'A6'"}],
     "mark": {"type": "area", "clip": true, "strokeWidth": 0, "fill": {"gradient": "linear", "x1": 0, "y1": 1, "x2": 0.6316, "y2": -0.427, "stops": [{"offset":0.01,"color":"#eee"},{"offset":0.01,"color":"#111"},{"offset":0.021,"color":"#111"},{"offset":0.021,"color":"#eee"},{"offset":0.06,"color":"#eee"},{"offset":0.06,"color":"#111"},{"offset":0.071,"color":"#111"},{"offset":0.071,"color":"#eee"},{"offset":0.11,"color":"#eee"},{"offset":0.11,"color":"#111"},{"offset":0.121,"color":"#111"},{"offset":0.121,"color":"#eee"},{"offset":0.16,"color":"#eee"},{"offset":0.16,"color":"#111"},{"offset":0.171,"color":"#111"},{"offset":0.171,"color":"#eee"},{"offset":0.21,"color":"#eee"},{"offset":0.21,"color":"#111"},{"offset":0.221,"color":"#111"},{"offset":0.221,"color":"#eee"},{"offset":0.26,"color":"#eee"},{"offset":0.26,"color":"#111"},{"offset":0.271,"color":"#111"},{"offset":0.271,"color":"#eee"},{"offset":0.31,"color":"#eee"},{"offset":0.31,"color":"#111"},{"offset":0.321,"color":"#111"},{"offset":0.321,"color":"#eee"},{"offset":0.36,"color":"#eee"},{"offset":0.36,"color":"#111"},{"offset":0.371,"color":"#111"},{"offset":0.371,"color":"#eee"},{"offset":0.41,"color":"#eee"},{"offset":0.41,"color":"#111"},{"offset":0.421,"color":"#111"},{"offset":0.421,"color":"#eee"},{"offset":0.46,"color":"#eee"},{"offset":0.46,"color":"#111"},{"offset":0.471,"color":"#111"},{"offset":0.471,"color":"#eee"},{"offset":0.51,"color":"#eee"},{"offset":0.51,"color":"#111"},{"offset":0.521,"color":"#111"},{"offset":0.521,"color":"#eee"},{"offset":0.56,"color":"#eee"},{"offset":0.56,"color":"#111"},{"offset":0.571,"color":"#111"},{"offset":0.571,"color":"#eee"},{"offset":0.61,"color":"#eee"},{"offset":0.61,"color":"#111"},{"offset":0.621,"color":"#111"},{"offset":0.621,"color":"#eee"},{"offset":0.66,"color":"#eee"},{"offset":0.66,"color":"#111"},{"offset":0.671,"color":"#111"},{"offset":0.671,"color":"#eee"},{"offset":0.71,"color":"#eee"},{"offset":0.71,"color":"#111"},{"offset":0.721,"color":"#111"},{"offset":0.721,"color":"#eee"},{"offset":0.76,"color":"#eee"},{"offset":0.76,"color":"#111"},{"offset":0.771,"color":"#111"},{"offset":0.771,"color":"#eee"},{"offset":0.81,"color":"#eee"},{"offset":0.81,"color":"#111"},{"offset":0.821,"color":"#111"},{"offset":0.821,"color":"#eee"},{"offset":0.86,"color":"#eee"},{"offset":0.86,"color":"#111"},{"offset":0.871,"color":"#111"},{"offset":0.871,"color":"#eee"},{"offset":0.91,"color":"#eee"},{"offset":0.91,"color":"#111"},{"offset":0.921,"color":"#111"},{"offset":0.921,"color":"#eee"},{"offset":0.96,"color":"#eee"},{"offset":0.96,"color":"#111"},{"offset":0.971,"color":"#111"},{"offset":0.971,"color":"#eee"}]}},
     "encoding": {"x": {"field": "x", "type": "quantitative", "axis": null}, "y": {"field": "y", "type": "quantitative", "axis": null}, "y2": {"datum": 0}}},
    {"data": {"values": [{}]}, "mark": {"type": "rule", "strokeWidth": 1.5}, "encoding": {"y": {"datum": 0, "type": "quantitative", "axis": null}}},
    {"data": {"name": "curves"}, "transform": [{"filter": "datum.p == '3t' && datum.s == 'ln'"}], "mark": {"type": "line", "strokeWidth": 1.3, "clip": true},
     "encoding": {"x": {"field": "x", "type": "quantitative", "axis": null}, "y": {"field": "y", "type": "quantitative", "axis": null}, "detail": {"field": "s"}}},
    {"data": {"name": "curves"}, "transform": [{"filter": "datum.p == '3t' && datum.s != 'ln'"}], "mark": {"type": "line", "strokeWidth": 1.9, "clip": true},
     "encoding": {"x": {"field": "x", "type": "quantitative", "axis": null}, "y": {"field": "y", "type": "quantitative", "axis": null}, "detail": {"field": "s"}}},
    {"data": {"name": "labels"}, "transform": [{"filter": "datum.p == '3t' && datum.k == 'a'"}], "mark": {"type": "text", "fontSize": 22, "align": "center", "baseline": "middle"},
     "encoding": {"x": {"field": "x", "type": "quantitative", "axis": null}, "y": {"field": "y", "type": "quantitative", "axis": null}, "text": {"field": "t"}}},
    {"data": {"name": "labels"}, "transform": [{"filter": "datum.p == '3t' && datum.k == 'kf'"}], "mark": {"type": "text", "fontSize": 22, "align": "right", "baseline": "middle"},
     "encoding": {"x": {"field": "x", "type": "quantitative", "axis": null}, "y": {"field": "y", "type": "quantitative", "axis": null}, "text": {"field": "t"}}},
    {"data": {"name": "labels"}, "transform": [{"filter": "datum.p == '3t' && datum.k == 'kf'"}], "mark": {"type": "text", "fontSize": 15, "align": "left", "baseline": "middle", "dx": 1, "dy": 9},
     "encoding": {"x": {"field": "x", "type": "quantitative", "axis": null}, "y": {"field": "y", "type": "quantitative", "axis": null}, "text": {"value": "F"}}}
   ]},
  {"width": 220, "height": 287,
   "resolve": {"axis": {"x": "independent", "y": "independent"}},
   "layer": [
    {"data": {"values": [{}]}, "mark": {"type": "point", "opacity": 0},
     "encoding": {
      "x": {"datum": 0, "type": "quantitative", "scale": {"domain": [-3, 3], "nice": false, "zero": false}, "axis": {"orient": "bottom", "values": [-3,-2.5,-2,-1.5,-1,-0.5,0,0.5,1,1.5,2,2.5,3], "labelExpr": "datum.value == -2 ? '-2' : datum.value == 0 ? '0' : datum.value == 2 ? '2' : ''", "labelPadding": 8, "title": "ENERGY  ω/ωₚ", "titlePadding": 13, "titleFontSize": 25}},
      "y": {"datum": 0, "type": "quantitative", "scale": {"domain": [0, 0.75], "nice": false, "zero": false}, "axis": {"orient": "left", "values": [0,0.05,0.1,0.15,0.2,0.25,0.3,0.35,0.4,0.45,0.5,0.55,0.6,0.65,0.7,0.75], "labelExpr": "datum.value == 0 ? '0.0' : datum.value == 0.2 ? '0.2' : datum.value == 0.4 ? '0.4' : datum.value == 0.6 ? '0.6' : ''", "title": "SPECTRAL WEIGHT ωₚA", "titlePadding": 13, "titleFontSize": 25}}}},
    {"data": {"values": [{}]}, "mark": {"type": "point", "opacity": 0},
     "encoding": {
      "x": {"datum": 0, "type": "quantitative", "axis": {"orient": "top", "values": [-3,-2.5,-2,-1.5,-1,-0.5,0,0.5,1,1.5,2,2.5,3], "labels": false, "title": null}},
      "y": {"datum": 0, "type": "quantitative", "axis": {"orient": "right", "values": [0,0.05,0.1,0.15,0.2,0.25,0.3,0.35,0.4,0.45,0.5,0.55,0.6,0.65,0.7,0.75], "labels": false, "title": null}}}},
    {"data": {"name": "curves"}, "transform": [{"filter": "datum.p == '1b'"}], "mark": {"type": "line", "strokeWidth": 1.8, "clip": true},
     "encoding": {"x": {"field": "x", "type": "quantitative", "axis": null}, "y": {"field": "y", "type": "quantitative", "axis": null}, "detail": {"field": "s"}}},
    {"data": {"name": "spikes"}, "transform": [{"filter": "datum.p == '1b'"}], "mark": {"type": "rule", "strokeWidth": 6},
     "encoding": {"x": {"field": "x", "type": "quantitative", "axis": null}, "y": {"field": "b", "type": "quantitative", "axis": null}, "y2": {"datum": 0}}},
    {"data": {"name": "spikes"}, "transform": [{"filter": "datum.p == '1b'"}], "mark": {"type": "rule", "strokeWidth": 2.8},
     "encoding": {"x": {"field": "x", "type": "quantitative", "axis": null}, "y": {"field": "a0", "type": "quantitative", "axis": null}, "y2": {"field": "a1"}}},
    {"data": {"name": "spikes"}, "transform": [{"filter": "datum.p == '1b'"}], "mark": {"type": "point", "shape": "M0,-1L0.55,1L-0.55,1Z", "size": 256, "filled": true, "opacity": 1, "strokeWidth": 0, "yOffset": 8},
     "encoding": {"x": {"field": "x", "type": "quantitative", "axis": null}, "y": {"field": "a1", "type": "quantitative", "axis": null}}},
    {"data": {"name": "labels"}, "transform": [{"filter": "datum.p == '1b' && datum.k == 'a'"}], "mark": {"type": "text", "fontSize": 21, "align": "center", "baseline": "middle"},
     "encoding": {"x": {"field": "x", "type": "quantitative", "axis": null}, "y": {"field": "y", "type": "quantitative", "axis": null}, "text": {"field": "t"}}},
    {"data": {"name": "labels"}, "transform": [{"filter": "datum.p == '1b' && datum.k == 'kf'"}], "mark": {"type": "text", "fontSize": 22, "align": "right", "baseline": "middle"},
     "encoding": {"x": {"field": "x", "type": "quantitative", "axis": null}, "y": {"field": "y", "type": "quantitative", "axis": null}, "text": {"field": "t"}}},
    {"data": {"name": "labels"}, "transform": [{"filter": "datum.p == '1b' && datum.k == 'kf'"}], "mark": {"type": "text", "fontSize": 15, "align": "left", "baseline": "middle", "dx": 1, "dy": 9},
     "encoding": {"x": {"field": "x", "type": "quantitative", "axis": null}, "y": {"field": "y", "type": "quantitative", "axis": null}, "text": {"value": "F"}}}
   ]},
  {"width": 220, "height": 287,
   "resolve": {"axis": {"x": "independent", "y": "independent"}},
   "layer": [
    {"data": {"values": [{}]}, "mark": {"type": "point", "opacity": 0},
     "encoding": {
      "x": {"datum": 0, "type": "quantitative", "scale": {"domain": [-3, 3], "nice": false, "zero": false}, "axis": {"orient": "bottom", "values": [-3,-2.5,-2,-1.5,-1,-0.5,0,0.5,1,1.5,2,2.5,3], "labelExpr": "datum.value == -2 ? '-2' : datum.value == 0 ? '0' : datum.value == 2 ? '2' : ''", "labelPadding": 8, "title": "ENERGY  ω/ωₚ", "titlePadding": 13, "titleFontSize": 25}},
      "y": {"datum": 0, "type": "quantitative", "scale": {"domain": [0, 0.75], "nice": false, "zero": false}, "axis": {"orient": "left", "values": [0,0.05,0.1,0.15,0.2,0.25,0.3,0.35,0.4,0.45,0.5,0.55,0.6,0.65,0.7,0.75], "labels": false, "title": null}}}},
    {"data": {"values": [{}]}, "mark": {"type": "point", "opacity": 0},
     "encoding": {
      "x": {"datum": 0, "type": "quantitative", "axis": {"orient": "top", "values": [-3,-2.5,-2,-1.5,-1,-0.5,0,0.5,1,1.5,2,2.5,3], "labels": false, "title": null}},
      "y": {"datum": 0, "type": "quantitative", "axis": {"orient": "right", "values": [0,0.05,0.1,0.15,0.2,0.25,0.3,0.35,0.4,0.45,0.5,0.55,0.6,0.65,0.7,0.75], "labels": false, "title": null}}}},
    {"data": {"name": "curves"}, "transform": [{"filter": "datum.p == '2b'"}], "mark": {"type": "line", "strokeWidth": 1.8, "clip": true},
     "encoding": {"x": {"field": "x", "type": "quantitative", "axis": null}, "y": {"field": "y", "type": "quantitative", "axis": null}, "detail": {"field": "s"}}},
    {"data": {"name": "spikes"}, "transform": [{"filter": "datum.p == '2b'"}], "mark": {"type": "rule", "strokeWidth": 6},
     "encoding": {"x": {"field": "x", "type": "quantitative", "axis": null}, "y": {"field": "b", "type": "quantitative", "axis": null}, "y2": {"datum": 0}}},
    {"data": {"name": "spikes"}, "transform": [{"filter": "datum.p == '2b'"}], "mark": {"type": "rule", "strokeWidth": 2.8},
     "encoding": {"x": {"field": "x", "type": "quantitative", "axis": null}, "y": {"field": "a0", "type": "quantitative", "axis": null}, "y2": {"field": "a1"}}},
    {"data": {"name": "spikes"}, "transform": [{"filter": "datum.p == '2b'"}], "mark": {"type": "point", "shape": "M0,-1L0.55,1L-0.55,1Z", "size": 256, "filled": true, "opacity": 1, "strokeWidth": 0, "yOffset": 8},
     "encoding": {"x": {"field": "x", "type": "quantitative", "axis": null}, "y": {"field": "a1", "type": "quantitative", "axis": null}}},
    {"data": {"name": "labels"}, "transform": [{"filter": "datum.p == '2b' && datum.k == 'a'"}], "mark": {"type": "text", "fontSize": 21, "align": "center", "baseline": "middle"},
     "encoding": {"x": {"field": "x", "type": "quantitative", "axis": null}, "y": {"field": "y", "type": "quantitative", "axis": null}, "text": {"field": "t"}}},
    {"data": {"name": "labels"}, "transform": [{"filter": "datum.p == '2b' && datum.k == 'kf'"}], "mark": {"type": "text", "fontSize": 22, "align": "right", "baseline": "middle"},
     "encoding": {"x": {"field": "x", "type": "quantitative", "axis": null}, "y": {"field": "y", "type": "quantitative", "axis": null}, "text": {"field": "t"}}},
    {"data": {"name": "labels"}, "transform": [{"filter": "datum.p == '2b' && datum.k == 'kf'"}], "mark": {"type": "text", "fontSize": 15, "align": "left", "baseline": "middle", "dx": 1, "dy": 9},
     "encoding": {"x": {"field": "x", "type": "quantitative", "axis": null}, "y": {"field": "y", "type": "quantitative", "axis": null}, "text": {"value": "F"}}}
   ]},
  {"width": 220, "height": 287,
   "resolve": {"axis": {"x": "independent", "y": "independent"}},
   "layer": [
    {"data": {"values": [{}]}, "mark": {"type": "point", "opacity": 0},
     "encoding": {
      "x": {"datum": 0, "type": "quantitative", "scale": {"domain": [-3, 3], "nice": false, "zero": false}, "axis": {"orient": "bottom", "values": [-3,-2.5,-2,-1.5,-1,-0.5,0,0.5,1,1.5,2,2.5,3], "labelExpr": "datum.value == -2 ? '-2' : datum.value == 0 ? '0' : datum.value == 2 ? '2' : ''", "labelPadding": 8, "title": "ENERGY  ω/ωₚ", "titlePadding": 13, "titleFontSize": 25}},
      "y": {"datum": 0, "type": "quantitative", "scale": {"domain": [0, 0.75], "nice": false, "zero": false}, "axis": {"orient": "left", "values": [0,0.05,0.1,0.15,0.2,0.25,0.3,0.35,0.4,0.45,0.5,0.55,0.6,0.65,0.7,0.75], "labels": false, "title": null}}}},
    {"data": {"values": [{}]}, "mark": {"type": "point", "opacity": 0},
     "encoding": {
      "x": {"datum": 0, "type": "quantitative", "axis": {"orient": "top", "values": [-3,-2.5,-2,-1.5,-1,-0.5,0,0.5,1,1.5,2,2.5,3], "labels": false, "title": null}},
      "y": {"datum": 0, "type": "quantitative", "axis": {"orient": "right", "values": [0,0.05,0.1,0.15,0.2,0.25,0.3,0.35,0.4,0.45,0.5,0.55,0.6,0.65,0.7,0.75], "labels": false, "title": null}}}},
    {"data": {"name": "curves"}, "transform": [{"filter": "datum.p == '3b'"}], "mark": {"type": "line", "strokeWidth": 1.8, "clip": true},
     "encoding": {"x": {"field": "x", "type": "quantitative", "axis": null}, "y": {"field": "y", "type": "quantitative", "axis": null}, "detail": {"field": "s"}}},
    {"data": {"name": "spikes"}, "transform": [{"filter": "datum.p == '3b'"}], "mark": {"type": "rule", "strokeWidth": 6},
     "encoding": {"x": {"field": "x", "type": "quantitative", "axis": null}, "y": {"field": "b", "type": "quantitative", "axis": null}, "y2": {"datum": 0}}},
    {"data": {"name": "spikes"}, "transform": [{"filter": "datum.p == '3b'"}], "mark": {"type": "rule", "strokeWidth": 2.8},
     "encoding": {"x": {"field": "x", "type": "quantitative", "axis": null}, "y": {"field": "a0", "type": "quantitative", "axis": null}, "y2": {"field": "a1"}}},
    {"data": {"name": "spikes"}, "transform": [{"filter": "datum.p == '3b'"}], "mark": {"type": "point", "shape": "M0,-1L0.55,1L-0.55,1Z", "size": 256, "filled": true, "opacity": 1, "strokeWidth": 0, "yOffset": 8},
     "encoding": {"x": {"field": "x", "type": "quantitative", "axis": null}, "y": {"field": "a1", "type": "quantitative", "axis": null}}},
    {"data": {"name": "labels"}, "transform": [{"filter": "datum.p == '3b' && datum.k == 'a'"}], "mark": {"type": "text", "fontSize": 21, "align": "center", "baseline": "middle"},
     "encoding": {"x": {"field": "x", "type": "quantitative", "axis": null}, "y": {"field": "y", "type": "quantitative", "axis": null}, "text": {"field": "t"}}},
    {"data": {"name": "labels"}, "transform": [{"filter": "datum.p == '3b' && datum.k == 'kf'"}], "mark": {"type": "text", "fontSize": 22, "align": "right", "baseline": "middle"},
     "encoding": {"x": {"field": "x", "type": "quantitative", "axis": null}, "y": {"field": "y", "type": "quantitative", "axis": null}, "text": {"field": "t"}}},
    {"data": {"name": "labels"}, "transform": [{"filter": "datum.p == '3b' && datum.k == 'kf'"}], "mark": {"type": "text", "fontSize": 15, "align": "left", "baseline": "middle", "dx": 1, "dy": 9},
     "encoding": {"x": {"field": "x", "type": "quantitative", "axis": null}, "y": {"field": "y", "type": "quantitative", "axis": null}, "text": {"value": "F"}}}
   ]}
]
}
